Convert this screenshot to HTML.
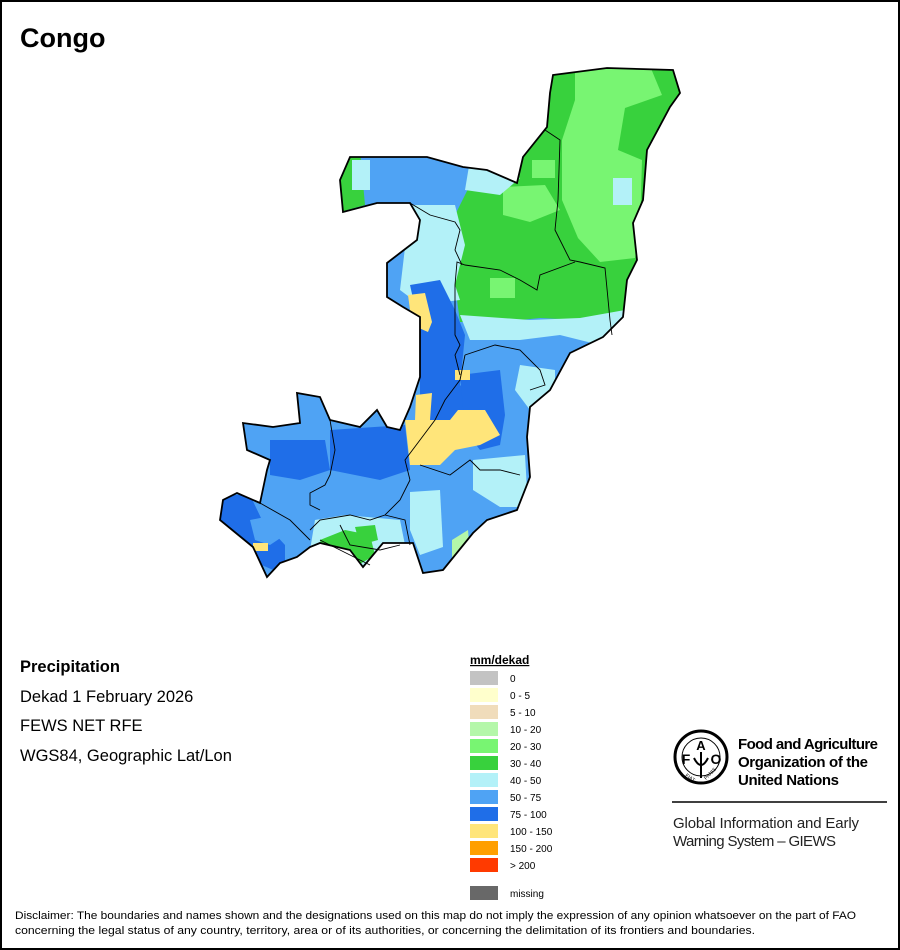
<!DOCTYPE html>
<html><head><meta charset="utf-8">
<style>
html,body{margin:0;padding:0;background:#fff;}
svg{display:block;font-family:"Liberation Sans",sans-serif;}
</style></head>
<body>
<svg id="root" width="900" height="950" viewBox="0 0 900 950" xmlns="http://www.w3.org/2000/svg">
<rect x="1" y="1" width="898" height="948" fill="#fff" stroke="#000" stroke-width="2"/>
<text x="20" y="47" font-size="27" font-weight="bold">Congo</text>

<defs>
<clipPath id="cg"><polygon points="553,75 607,68 673,70 680,93 670,107 647,150 643,200 633,223 637,260 627,280 623,317 603,337 570,353 550,390 530,407 527,437 530,477 517,510 487,520 473,533 443,570 423,573 413,543 383,543 363,567 350,550 320,543 310,547 297,557 280,563 267,577 253,547 220,520 223,500 237,493 260,503 267,470 270,460 247,450 243,423 273,427 300,423 297,393 320,397 330,420 360,427 377,410 387,427 400,430 410,407 420,377 420,353 420,317 403,307 387,297 387,263 400,253 417,240 420,220 410,203 377,203 343,212 340,180 350,157 427,157 463,167 487,170 517,183 523,157 547,127 550,93"/></clipPath>
</defs>

<g clip-path="url(#cg)">
  <rect x="200" y="50" width="500" height="560" fill="#4fa3f4"/>
  <polygon fill="#38d13d" points="420,150 520,60 700,50 700,330 620,315 580,320 540,318 500,322 460,322 455,285 445,255 455,215 470,185 520,175"/>
  <polygon fill="#78f572" points="575,66 650,66 662,95 625,108 618,150 642,160 640,230 635,258 600,262 578,238 562,200 562,140 575,100"/>
  <polygon fill="#78f572" points="503,187 545,185 560,210 530,222 503,215"/>
  <polygon fill="#78f572" points="532,160 555,160 555,178 532,178"/>
  <polygon fill="#78f572" points="490,278 515,278 515,298 490,298"/>
  <polygon fill="#b3f1f8" points="613,178 632,178 632,205 613,205"/>
  <polygon fill="#38d13d" points="330,150 360,150 365,205 330,215"/>
  <polygon fill="#b3f1f8" points="352,160 370,160 370,190 352,190"/>
  <polygon fill="#b3f1f8" points="410,205 455,205 465,245 455,285 460,300 420,305 400,290"/>
  <polygon fill="#b3f1f8" points="460,315 530,320 580,318 625,310 625,340 600,345 560,335 520,340 470,340"/>
  <polygon fill="#b3f1f8" points="470,160 520,178 500,195 465,190"/>
  <polygon fill="#b3f1f8" points="520,365 555,370 555,395 530,410 515,390"/>
  <polygon fill="#1f6ee8" points="410,285 440,280 455,310 465,335 460,385 470,395 465,430 440,430 420,420 420,330"/>
  <polygon fill="#1f6ee8" points="460,375 500,370 505,415 500,445 480,450 465,430"/>
  <polygon fill="#1f6ee8" points="330,430 405,425 410,470 380,480 330,470"/>
  <polygon fill="#1f6ee8" points="270,440 325,440 330,470 300,480 270,475"/>
  <polygon fill="#1f6ee8" points="215,495 250,495 262,520 285,545 285,575 250,560 215,525"/>
  <polygon fill="#4fa3f4" points="250,520 275,515 285,535 270,545 255,540"/>
  <polygon fill="#ffe57a" points="405,420 450,420 458,410 485,410 500,435 480,445 455,450 440,465 410,465"/>
  <polygon fill="#ffe57a" points="408,295 425,293 432,322 428,332 412,325"/>
  <polygon fill="#ffe57a" points="416,395 432,393 430,420 415,420"/>
  <polygon fill="#ffe57a" points="455,370 470,370 470,380 455,380"/>
  <polygon fill="#ffe57a" points="255,577 272,577 272,605 258,605"/>
  <polygon fill="#ffe57a" points="253,543 268,543 268,551 253,551"/>
  <polygon fill="#b3f1f8" points="473,460 525,455 528,507 500,507 473,490"/>
  <polygon fill="#b3f1f8" points="410,492 440,490 443,547 420,555 410,530"/>
  <polygon fill="#b3f1f8" points="315,520 345,515 400,520 405,545 385,560 355,575 330,570 310,550"/>
  <polygon fill="#38d13d" points="320,540 345,530 370,535 375,555 350,570 325,565"/>
  <polygon fill="#38d13d" points="355,527 375,525 378,540 360,545"/>
  <polygon fill="#38d13d" points="415,580 445,570 470,545 495,522 530,505 500,540 475,575 440,605 415,605"/>
  <polygon fill="#b4f7a9" points="452,540 468,530 470,555 452,560"/>
</g>
<polygon points="553,75 607,68 673,70 680,93 670,107 647,150 643,200 633,223 637,260 627,280 623,317 603,337 570,353 550,390 530,407 527,437 530,477 517,510 487,520 473,533 443,570 423,573 413,543 383,543 363,567 350,550 320,543 310,547 297,557 280,563 267,577 253,547 220,520 223,500 237,493 260,503 267,470 270,460 247,450 243,423 273,427 300,423 297,393 320,397 330,420 360,427 377,410 387,427 400,430 410,407 420,377 420,353 420,317 403,307 387,297 387,263 400,253 417,240 420,220 410,203 377,203 343,212 340,180 350,157 427,157 463,167 487,170 517,183 523,157 547,127 550,93" fill="none" stroke="#000" stroke-width="1.8"/>
<g fill="none" stroke="#000" stroke-width="0.9">
  <polyline points="545,130 560,140 558,200 555,230 570,260 580,262 605,268 610,320 612,335"/>
  <polyline points="575,262 540,275 537,290 520,280 500,270 465,265 457,262 455,285"/>
  <polyline points="410,203 430,215 455,222 460,230 455,250 462,265"/>
  <polyline points="455,285 455,300 455,335 460,345 455,355 460,375"/>
  <polyline points="465,355 495,345 520,350 540,370 545,385 530,390"/>
  <polyline points="465,355 460,380 445,400 435,420 420,440 405,460 410,480"/>
  <polyline points="420,465 450,475 470,460 480,470 500,470 520,475"/>
  <polyline points="330,420 335,450 330,475 325,485 310,493 310,505 320,510"/>
  <polyline points="410,480 400,500 385,515 370,520 350,515 320,520 310,530"/>
  <polyline points="260,503 290,520 310,540"/>
  <polyline points="385,515 405,520 410,545"/>
  <polyline points="340,525 350,545 380,550 400,545"/>
  <polyline points="320,540 350,555 370,565"/>
</g>

<g>
<text x="20" y="672" font-size="16.5" font-weight="bold">Precipitation</text>
<text x="20" y="702" font-size="16.5">Dekad 1 February 2026</text>
<text x="20" y="731" font-size="16.5">FEWS NET RFE</text>
<text x="20" y="761" font-size="16.5">WGS84, Geographic Lat/Lon</text>
</g>

<g id="legend">
<text x="470" y="664" font-size="12" font-weight="bold" text-decoration="underline">mm/dekad</text>
</g>

<g>
  <circle cx="701" cy="757" r="26" fill="none" stroke="#000" stroke-width="3"/>
  <circle cx="701" cy="757" r="19" fill="none" stroke="#000" stroke-width="1"/>
  <text x="686" y="764" font-size="14" font-weight="bold" text-anchor="middle">F</text>
  <text x="701" y="750" font-size="13" font-weight="bold" text-anchor="middle">A</text>
  <text x="716" y="764" font-size="14" font-weight="bold" text-anchor="middle">O</text>
  <path d="M701,752 L701,778 M694,758 Q701,772 708,758" stroke="#000" stroke-width="2" fill="none"/>
  <text x="685" y="776" font-size="5" transform="rotate(35 685 776)">FIAT</text>
  <text x="706" y="780" font-size="5" transform="rotate(-45 706 780)">PANIS</text>
</g>
<g>
<text x="738" y="749" font-size="15" font-weight="bold" textLength="140">Food and Agriculture</text>
<text x="738" y="767" font-size="15" font-weight="bold" textLength="130">Organization of the</text>
<text x="738" y="785" font-size="15" font-weight="bold" textLength="101">United Nations</text>
</g>
<line x1="672" y1="802" x2="887" y2="802" stroke="#000" stroke-width="1.5"/>
<text x="673" y="828" font-size="15" fill="#222" textLength="186">Global Information and Early</text>
<text x="673" y="846" font-size="15" fill="#222" textLength="163">Warning System – GIEWS</text>

<text x="15" y="919" font-size="11" textLength="841" lengthAdjust="spacingAndGlyphs">Disclaimer: The boundaries and names shown and the designations used on this map do not imply the expression of any opinion whatsoever on the part of FAO</text>
<text x="15" y="934" font-size="11" textLength="740" lengthAdjust="spacingAndGlyphs">concerning the legal status of any country, territory, area or of its authorities, or concerning the delimitation of its frontiers and boundaries.</text>
</svg>
<script>
const legendLabels = ["0","0 - 5","5 - 10","10 - 20","20 - 30","30 - 40","40 - 50","50 - 75","75 - 100","100 - 150","150 - 200","> 200"];
const legendColors = ["#c3c3c3","#ffffcc","#f0dcbb","#b4f7a9","#78f572","#38d13d","#b3f1f8","#4fa3f4","#1f6ee8","#ffe57a","#ff9f00","#ff3a00"];
const missingLabel = ["missing"];
const missingColor = ["#686868"];
const NS = "http://www.w3.org/2000/svg";
const lg = document.getElementById("legend");
function addEntry(label, color, y) {
  const r = document.createElementNS(NS, "rect");
  r.setAttribute("x", 470); r.setAttribute("y", y);
  r.setAttribute("width", 28); r.setAttribute("height", 14);
  r.setAttribute("fill", color);
  
  
  lg.appendChild(r);
  const t = document.createElementNS(NS, "text");
  t.setAttribute("x", 510); t.setAttribute("y", y + 11);
  t.setAttribute("font-size", 10);
  t.textContent = label;
  
  
  lg.appendChild(t);
}
legendLabels.forEach((l, i) => addEntry(l, legendColors[i], 671 + i * 17));
addEntry(missingLabel[0], missingColor[0], 886);
</script>
</body></html>
